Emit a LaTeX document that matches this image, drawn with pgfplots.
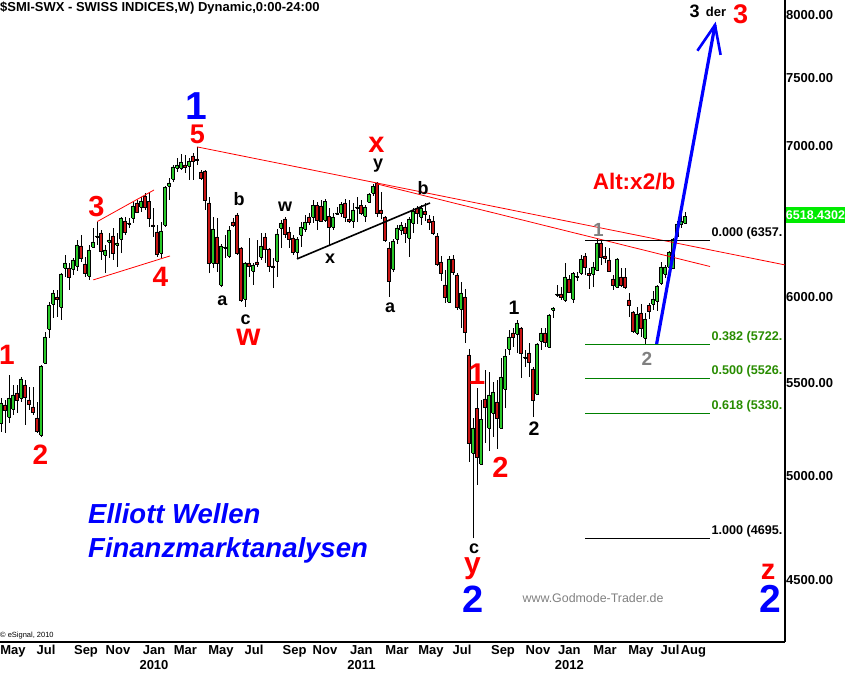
\documentclass[border=0pt]{standalone}
\usepackage{fontspec}
\setmainfont{Liberation Sans}
\usepackage{pgfplots}
\pgfplotsset{compat=1.18}
\definecolor{candg}{RGB}{40,200,40}
\definecolor{candr}{RGB}{200,20,20}
\definecolor{fibg}{RGB}{0,128,0}
\definecolor{fibt}{RGB}{40,140,0}
\definecolor{tagg}{RGB}{0,235,0}
\definecolor{lred}{RGB}{255,0,0}
\definecolor{lgray}{RGB}{128,128,128}
\newcommand\fs[1]{\fontsize{#1}{#1}\selectfont}
% candle: week, open, high, low, close, colour
\newcommand\candle[6]{%
  \pgfmathsetmacro\xl{#1-0.33}%
  \pgfmathsetmacro\xr{#1+0.33}%
  \edef\doplot{%
    \noexpand\addplot[black,line width=0.9pt,forget plot] coordinates {(#1,#4) (#1,#3)};%
    \noexpand\addplot[draw=black,fill=#6,line width=0.5pt,forget plot] coordinates {(\xl,#2) (\xr,#2) (\xr,#5) (\xl,#5) (\xl,#2)};%
  }%
  \doplot}
\newcommand\CU[5]{\candle{#1}{#2}{#3}{#4}{#5}{candg}}
\newcommand\CD[5]{\candle{#1}{#2}{#3}{#4}{#5}{candr}}
\begin{document}
\begin{tikzpicture}[lbl/.style={inner sep=0pt}]
\useasboundingbox (0pt,-32pt) rectangle (845pt,642pt);
\begin{axis}[
  at={(0pt,0pt)}, anchor=south west,
  width=785pt, height=642pt, scale only axis,
  xmin=0.75, xmax=197,
  ymode=log, ymin=4225, ymax=8123,
  axis x line*=bottom, axis y line*=right,
  axis line style={line width=1.4pt,black},
  major tick length=0pt, minor tick length=0pt,
  yminorticks=false, xminorticks=false,
  ytick={4500,5000,5500,6000,7000,7500,8000},
  yticklabels={4500.00,5000.00,5500.00,6000.00,7000.00,7500.00,8000.00},
  yticklabel style={font=\fs{13}\bfseries, anchor=west, inner xsep=1pt},
  xtick={4,12.25,22.25,30.25,39.25,47.1,56,64.25,74.4,82,91.1,100,108.5,116.25,126.5,135.25,143.1,152,161,168.25,174.1},
  xticklabels={May,Jul,Sep,Nov,{Jan\\2010},Mar,May,Jul,Sep,Nov,{Jan\\2011},Mar,May,Jul,Sep,Nov,{Jan\\2012},Mar,May,Jul,Aug},
  xticklabel style={font=\fontsize{13}{14.7}\selectfont\bfseries, align=center, anchor=north},
]
\CU{1}{5280}{5416}{5232}{5389}
\CD{2}{5378}{5405}{5227}{5351}
\CU{3}{5312}{5545}{5280}{5416}
\CU{4}{5356}{5489}{5323}{5433}
\CD{5}{5444}{5489}{5334}{5405}
\CU{6}{5416}{5534}{5394}{5523}
\CD{7}{5489}{5517}{5270}{5422}
\CD{8}{5405}{5478}{5351}{5383}
\CD{9}{5367}{5478}{5323}{5340}
\CD{10}{5307}{5394}{5227}{5238}
\CU{11}{5217}{5602}{5206}{5596}
\CU{12}{5613}{5793}{5608}{5764}
\CU{13}{5811}{5973}{5758}{5954}
\CU{14}{5961}{6046}{5876}{6028}
\CD{15}{6003}{6046}{5882}{5991}
\CU{16}{5942}{6151}{5864}{6145}
\CU{17}{6183}{6266}{6127}{6215}
\CD{18}{6183}{6215}{6046}{6127}
\CU{19}{6176}{6247}{6139}{6234}
\CU{20}{6196}{6362}{6164}{6330}
\CD{21}{6323}{6394}{6221}{6247}
\CD{22}{6208}{6253}{6127}{6151}
\CU{23}{6133}{6330}{6108}{6297}
\CU{24}{6317}{6440}{6310}{6349}
\CU{25}{6381}{6480}{6330}{6388}
\CD{26}{6408}{6427}{6234}{6291}
\CU{27}{6266}{6330}{6151}{6297}
\CU{28}{6349}{6408}{6247}{6362}
\CD{29}{6388}{6440}{6234}{6278}
\CU{30}{6330}{6408}{6189}{6343}
\CU{31}{6369}{6513}{6278}{6506}
\CD{32}{6486}{6513}{6394}{6414}
\CU{33}{6467}{6506}{6440}{6473}
\CU{34}{6506}{6613}{6473}{6586}
\CD{35}{6606}{6626}{6539}{6546}
\CU{36}{6579}{6646}{6546}{6619}
\CD{37}{6653}{6674}{6559}{6579}
\CD{38}{6619}{6680}{6447}{6506}
\CD{39}{6460}{6572}{6381}{6453}
\CD{40}{6414}{6460}{6253}{6272}
\CU{41}{6278}{6480}{6247}{6421}
\CU{42}{6460}{6718}{6447}{6714}
\CU{43}{6721}{6777}{6626}{6742}
\CU{44}{6770}{6867}{6749}{6853}
\CU{45}{6846}{6916}{6818}{6867}
\CU{46}{6846}{6944}{6832}{6888}
\CD{47}{6867}{6937}{6811}{6853}
\CU{48}{6860}{6916}{6763}{6895}
\CD{49}{6930}{6951}{6763}{6895}
\CD{50}{6909}{6993}{6867}{6902}
\CD{51}{6818}{6832}{6763}{6777}
\CD{52}{6825}{6832}{6559}{6626}
\CD{53}{6606}{6646}{6151}{6215}
\CU{54}{6215}{6513}{6183}{6434}
\CD{55}{6381}{6506}{6158}{6215}
\CU{56}{6077}{6336}{6064}{6323}
\CU{57}{6310}{6394}{6247}{6317}
\CU{58}{6259}{6453}{6247}{6427}
\CD{59}{6480}{6506}{6447}{6460}
\CD{60}{6526}{6539}{6266}{6278}
\CD{61}{6310}{6317}{5973}{5985}
\CU{62}{5991}{6221}{5942}{6215}
\CD{63}{6215}{6375}{6127}{6196}
\CU{64}{6164}{6215}{6077}{6202}
\CD{65}{6221}{6362}{6189}{6208}
\CU{66}{6253}{6408}{6234}{6323}
\CD{67}{6381}{6408}{6215}{6304}
\CD{68}{6304}{6310}{6158}{6196}
\CD{69}{6196}{6247}{6058}{6189}
\CU{70}{6227}{6434}{6127}{6401}
\CU{71}{6440}{6493}{6310}{6473}
\CD{72}{6500}{6513}{6375}{6401}
\CD{73}{6414}{6447}{6310}{6369}
\CD{74}{6375}{6394}{6266}{6285}
\CU{75}{6285}{6381}{6240}{6369}
\CU{76}{6394}{6480}{6317}{6447}
\CU{77}{6434}{6526}{6414}{6480}
\CD{78}{6513}{6539}{6460}{6480}
\CU{79}{6513}{6626}{6473}{6592}
\CD{80}{6592}{6613}{6427}{6493}
\CD{81}{6586}{6626}{6480}{6486}
\CU{82}{6493}{6633}{6480}{6619}
\CD{83}{6519}{6572}{6323}{6447}
\CU{84}{6447}{6539}{6427}{6513}
\CU{85}{6533}{6579}{6526}{6539}
\CU{86}{6539}{6613}{6513}{6599}
\CD{87}{6606}{6633}{6480}{6513}
\CD{88}{6500}{6626}{6473}{6486}
\CU{89}{6486}{6606}{6440}{6559}
\CU{90}{6572}{6646}{6480}{6579}
\CD{91}{6592}{6626}{6526}{6539}
\CU{92}{6519}{6592}{6480}{6579}
\CU{93}{6613}{6674}{6606}{6667}
\CU{94}{6674}{6735}{6653}{6721}
\CD{95}{6742}{6749}{6513}{6539}
\CD{96}{6559}{6680}{6500}{6539}
\CD{97}{6513}{6519}{6349}{6362}
\CD{98}{6310}{6349}{6003}{6102}
\CU{99}{6176}{6369}{6158}{6356}
\CU{100}{6369}{6460}{6336}{6440}
\CU{101}{6427}{6480}{6394}{6460}
\CD{102}{6447}{6473}{6343}{6408}
\CU{103}{6375}{6513}{6253}{6500}
\CU{104}{6473}{6572}{6408}{6552}
\CD{105}{6572}{6586}{6467}{6539}
\CU{106}{6513}{6592}{6460}{6572}
\CD{107}{6552}{6606}{6486}{6533}
\CD{108}{6500}{6526}{6427}{6480}
\CD{109}{6486}{6519}{6394}{6408}
\CD{110}{6388}{6408}{6196}{6208}
\CD{111}{6221}{6259}{6102}{6151}
\CD{112}{6077}{6170}{5967}{6003}
\CU{113}{5973}{6259}{5967}{6240}
\CD{114}{6240}{6266}{6139}{6158}
\CD{115}{6139}{6151}{5924}{5942}
\CU{116}{5930}{6095}{5817}{6028}
\CD{117}{6003}{6052}{5729}{5793}
\CD{118}{5659}{5694}{5075}{5174}
\CU{119}{5122}{5307}{4695}{5254}
\CD{120}{5361}{5472}{4958}{5101}
\CU{121}{5065}{5405}{5060}{5301}
\CD{122}{5411}{5573}{5174}{5367}
\CU{123}{5254}{5562}{5132}{5433}
\CU{124}{5334}{5506}{5206}{5450}
\CD{125}{5394}{5517}{5143}{5307}
\CU{126}{5254}{5641}{5248}{5534}
\CU{127}{5467}{5694}{5361}{5653}
\CU{128}{5694}{5805}{5659}{5764}
\CD{129}{5787}{5817}{5706}{5764}
\CU{130}{5781}{5864}{5671}{5846}
\CD{131}{5817}{5823}{5528}{5671}
\CU{132}{5641}{5688}{5591}{5648}
\CD{133}{5671}{5729}{5534}{5619}
\CD{134}{5579}{5591}{5312}{5405}
\CU{135}{5439}{5729}{5433}{5723}
\CU{136}{5741}{5817}{5688}{5787}
\CD{137}{5787}{5817}{5706}{5735}
\CU{138}{5706}{5900}{5700}{5894}
\CU{139}{5924}{5942}{5876}{5936}
\CU{140}{6016}{6077}{6003}{6022}
\CD{141}{6022}{6064}{5985}{6003}
\CU{142}{5985}{6215}{5973}{6127}
\CD{143}{6114}{6139}{6028}{6034}
\CU{144}{5991}{6158}{5967}{6151}
\CU{145}{6124}{6158}{6102}{6130}
\CU{146}{6151}{6266}{6139}{6240}
\CD{147}{6259}{6278}{6139}{6189}
\CD{148}{6151}{6183}{6052}{6139}
\CU{149}{6145}{6221}{6064}{6189}
\CU{150}{6170}{6369}{6164}{6343}
\CD{151}{6343}{6356}{6202}{6253}
\CD{152}{6259}{6317}{6215}{6247}
\CD{153}{6234}{6310}{6158}{6164}
\CD{154}{6114}{6139}{6046}{6077}
\CU{155}{6064}{6246}{6058}{6240}
\CD{156}{6127}{6183}{6064}{6077}
\CD{157}{6127}{6183}{6052}{6064}
\CD{158}{5985}{6028}{5882}{5954}
\CD{159}{5912}{5918}{5787}{5799}
\CU{160}{5787}{5942}{5776}{5900}
\CD{161}{5906}{5961}{5764}{5817}
\CU{162}{5758}{5906}{5723}{5870}
\CD{163}{5954}{5967}{5870}{5918}
\CU{164}{5961}{6040}{5924}{5991}
\CU{165}{5979}{6077}{5918}{6071}
\CU{166}{6089}{6221}{6077}{6189}
\CU{167}{6145}{6202}{6120}{6189}
\CU{168}{6189}{6291}{6183}{6285}
\CU{169}{6183}{6375}{6176}{6369}
\CU{170}{6388}{6486}{6381}{6467}
\CU{171}{6467}{6539}{6440}{6486}
\CU{172}{6473}{6546}{6467}{6518}
% trend lines
\addplot[lred, line width=0.8pt] coordinates {(50,6994) (197,6202)};
\addplot[lred, line width=0.8pt] coordinates {(95,6735) (178.25,6192)};
\addplot[lred, line width=0.8pt] coordinates {(25.08,6482) (39.25,6694)};
\addplot[lred, line width=0.8pt] coordinates {(24.08,6108) (43.25,6259)};
\addplot[black, line width=1.6pt] coordinates {(75,6240) (108.25,6606)};
% Fibonacci levels
\addplot[black, line width=1pt] coordinates {(147,6357) (178.25,6357)};
\addplot[fibg, line width=1pt] coordinates {(147,5722) (178.25,5722)};
\addplot[fibg, line width=1pt] coordinates {(147,5526) (178.25,5526)};
\addplot[fibg, line width=1pt] coordinates {(147,5330) (178.25,5330)};
\addplot[black, line width=1pt] coordinates {(147,4695) (178.25,4695)};
% projection arrow
\addplot[blue, line width=3.2pt] coordinates {(164.9,5722) (179.5,7919)};
\addplot[blue, line width=2.6pt, line join=miter] coordinates {(175.1,7714) (179.5,7919) (180.9,7681)};
\end{axis}
% texts
\node[anchor=base west, inner sep=0pt, font=\fs{13}\bfseries] at (0pt,630pt) {\$SMI-SWX - SWISS INDICES,W) Dynamic,0:00-24:00};
\node[lbl, text=blue, font=\fs{39}\bfseries] at (196pt,536pt) {1};
\node[lbl, text=lred, font=\fs{27}\bfseries] at (197.5pt,508pt) {5};
\node[lbl, text=lred, font=\fs{29}\bfseries] at (96.5pt,435.5pt) {3};
\node[lbl, text=lred, font=\fs{28}\bfseries] at (160.5pt,365pt) {4};
\node[lbl, text=lred, font=\fs{28}\bfseries] at (7pt,287pt) {1};
\node[lbl, text=lred, font=\fs{28}\bfseries] at (40.5pt,187pt) {2};
\node[lbl, font=\fs{18}\bfseries] at (239pt,442.5pt) {b};
\node[lbl, font=\fs{18}\bfseries] at (222.5pt,341pt) {a};
\node[lbl, font=\fs{18}\bfseries] at (245.7pt,322pt) {c};
\node[lbl, text=lred, font=\fs{31}\bfseries] at (248.5pt,304.5pt) {w};
\node[lbl, font=\fs{18}\bfseries] at (285pt,435.3pt) {w};
\node[lbl, font=\fs{18}\bfseries] at (330pt,383pt) {x};
\node[lbl, text=lred, font=\fs{29}\bfseries] at (376.5pt,497.5pt) {x};
\node[lbl, font=\fs{18}\bfseries] at (378pt,476pt) {y};
\node[lbl, font=\fs{18}\bfseries] at (423pt,453.5pt) {b};
\node[lbl, font=\fs{18}\bfseries] at (390pt,334pt) {a};
\node[lbl, text=lred, font=\fs{30}\bfseries] at (477pt,268pt) {1};
\node[lbl, text=lred, font=\fs{29}\bfseries] at (500.5pt,174.5pt) {2};
\node[lbl, font=\fs{19.5}\bfseries] at (514pt,334pt) {1};
\node[lbl, font=\fs{19.5}\bfseries] at (534pt,213pt) {2};
\node[lbl, font=\fs{18}\bfseries] at (474pt,93.7pt) {c};
\node[lbl, text=lred, font=\fs{30}\bfseries] at (472.5pt,73pt) {y};
\node[lbl, text=blue, font=\fs{38}\bfseries] at (473.3pt,42.3pt) {2};
\node[lbl, text=lgray, font=\fs{19}\bfseries] at (598.5pt,412pt) {1};
\node[lbl, text=lgray, font=\fs{19}\bfseries] at (647pt,283.5pt) {2};
\node[lbl, text=lred, font=\fs{22.5}\bfseries] at (634pt,460pt) {Alt:x2/b};
\node[lbl, font=\fs{18}\bfseries] at (694.5pt,630.5pt) {3};
\node[lbl, font=\fs{13}\bfseries] at (716pt,630.3pt) {der};
\node[lbl, text=lred, font=\fs{27}\bfseries] at (740.5pt,627.5pt) {3};
\node[lbl, text=lred, font=\fs{29}\bfseries] at (768pt,70pt) {z};
\node[lbl, text=blue, font=\fs{39}\bfseries] at (770pt,43pt) {2};
\node[anchor=base west, inner sep=0pt, text=blue, font=\fs{27.5}\bfseries\itshape] at (88pt,118pt) {Elliott Wellen};
\node[anchor=base west, inner sep=0pt, text=blue, font=\fs{27.5}\bfseries\itshape] at (88pt,84pt) {Finanzmarktanalysen};
\node[lbl, text=lgray, font=\fs{12.4}] at (593pt,44pt) {www.Godmode-Trader.de};
\node[anchor=base west, inner sep=0pt, font=\fs{7.5}] at (0pt,5pt) {© eSignal, 2010};
\node[anchor=base west, inner sep=0pt, font=\fs{12.6}\bfseries] at (711.5pt,405pt) {0.000 (6357.};
\node[anchor=base west, inner sep=0pt, text=fibt, font=\fs{12.6}\bfseries] at (711.5pt,301.3pt) {0.382 (5722.};
\node[anchor=base west, inner sep=0pt, text=fibt, font=\fs{12.6}\bfseries] at (711.5pt,267pt) {0.500 (5526.};
\node[anchor=base west, inner sep=0pt, text=fibt, font=\fs{12.6}\bfseries] at (711.5pt,232pt) {0.618 (5330.};
\node[anchor=base west, inner sep=0pt, font=\fs{12.6}\bfseries] at (711.5pt,107pt) {1.000 (4695.};
\fill[tagg] (786pt,419.3pt) rectangle (845pt,434.7pt);
\node[text=white, font=\fs{12.5}\bfseries] at (815.5pt,427pt) {6518.4302};
\end{tikzpicture}
\end{document}
